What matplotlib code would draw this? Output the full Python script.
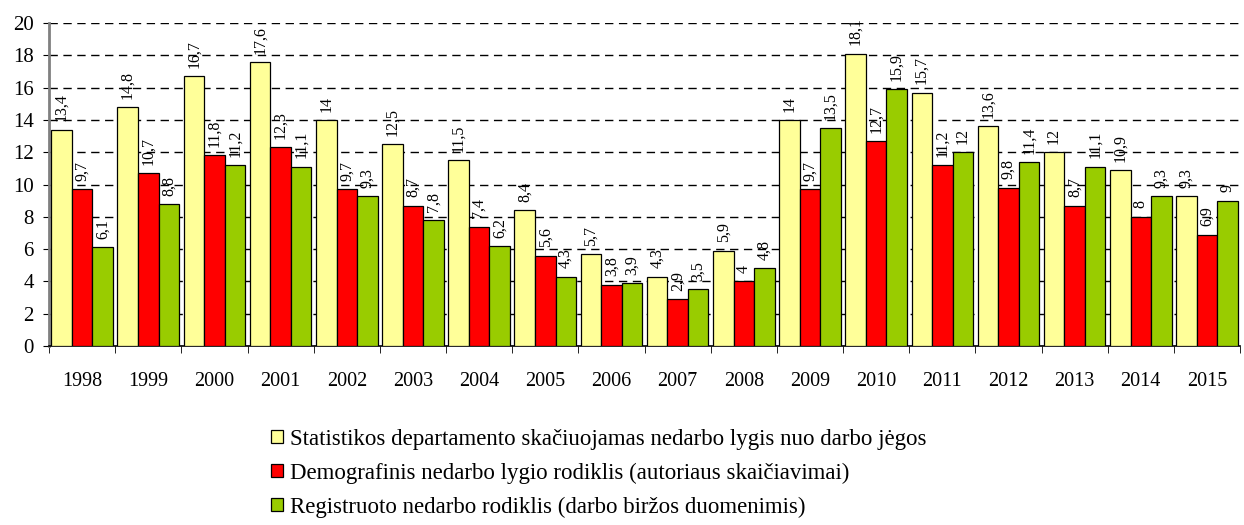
import numpy as np
import matplotlib
matplotlib.use("Agg")
import matplotlib.pyplot as plt
from matplotlib import rcParams

rcParams["font.family"] = "Liberation Serif"

# Data
years = ["1998", "1999", "2000", "2001", "2002", "2003", "2004", "2005", "2006",
         "2007", "2008", "2009", "2010", "2011", "2012", "2013", "2014", "2015"]
stat_dep = [13.4, 14.8, 16.7, 17.6, 14, 12.5, 11.5, 8.4, 5.7,
            4.3, 5.9, 14, 18.1, 15.7, 13.6, 12, 10.9, 9.3]
demogr = [9.7, 10.7, 11.8, 12.3, 9.7, 8.7, 7.4, 5.6, 3.8,
          2.9, 4, 9.7, 12.7, 11.2, 9.8, 8.7, 8, 6.9]
registr = [6.1, 8.8, 11.2, 11.1, 9.3, 7.8, 6.2, 4.3, 3.9,
           3.5, 4.8, 13.5, 15.9, 12, 11.4, 11.1, 9.3, 9]
labels = ["Statistikos departamento skačiuojamas nedarbo lygis nuo darbo jėgos",
          "Demografinis nedarbo lygio rodiklis (autoriaus skaičiavimai)",
          "Registruoto nedarbo rodiklis (darbo biržos duomenimis)"]
colors = ["#FFFF99", "#FF0000", "#99CC00"]

fig = plt.figure(figsize=(12.44, 5.25), dpi=100)
ax = fig.add_axes([0.0394, 0.341, 0.9574, 0.615])

x = np.arange(len(years))
w = 0.31
series = [stat_dep, demogr, registr]
for i, (vals, c, lab) in enumerate(zip(series, colors, labels)):
    pos = x + (i - 1) * w
    ax.bar(pos, vals, width=w, color=c, edgecolor="black", lw=0.9,
           label=lab, zorder=3)
    for p, v in zip(pos, vals):
        txt = ("%g" % v).replace(".", ",")
        ax.annotate(txt, (p, v), xytext=(0, 6), textcoords="offset points",
                    rotation=90, ha="center", va="bottom", fontsize=11.5,
                    zorder=4)

ax.set_xlim(-0.5, len(years) - 0.5)
ax.set_ylim(0, 20)
ax.set_yticks(np.arange(0, 21, 2))
ax.yaxis.grid(True, ls=(0, (6, 4)), color="black", lw=1.0, zorder=0)
ax.set_xticks(x)
ax.set_xticklabels(years)
ax.set_xticks(np.arange(-0.5, len(years)), minor=True)
ax.tick_params(axis="x", which="major", length=0, pad=19, labelsize=14.5)
ax.tick_params(axis="x", which="minor", length=5, direction="out")
ax.tick_params(axis="y", length=4, direction="out", labelsize=15, pad=7)

for s in ["top", "right"]:
    ax.spines[s].set_visible(False)
ax.spines["left"].set_color("#808080")
ax.spines["left"].set_linewidth(2)
ax.spines["bottom"].set_linewidth(1.2)

fig.legend(loc="upper left", bbox_to_anchor=(0.209, 0.205), frameon=False,
           fontsize=16.5, handlelength=0.5, handleheight=0.5, handletextpad=0.3,
           labelspacing=0.56, borderpad=0)

plt.savefig("out.png", dpi=100)
